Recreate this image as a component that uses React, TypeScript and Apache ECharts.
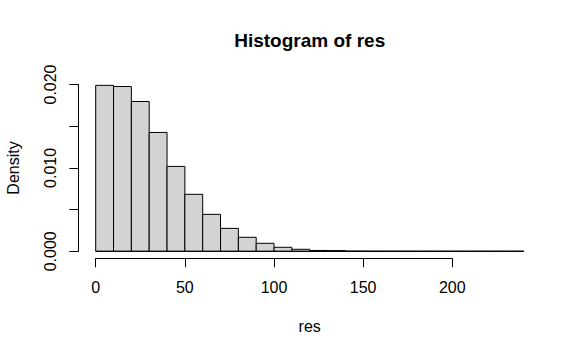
import React, { useEffect, useRef } from "react";
import * as echarts from "echarts";

const breaks = [0, 10, 20, 30, 40, 50, 60, 70, 80, 90, 100, 110, 120, 130, 140, 150, 160, 170, 180, 190, 200, 210, 220, 230, 240];
const density = [
  0.0199, 0.01976, 0.01796, 0.01425, 0.01018, 0.00683, 0.00443, 0.00275, 0.00168, 0.00096,
  0.00048, 0.00024, 0.0001, 0.00008, 0.00002, 0.00001, 0.000005, 0.000003, 0.000002, 0.000001,
  0.000001, 0.000001, 0.0000005, 0.0000005,
];
const xTickInterval = 50;
const yTickInterval = 0.005;
const titleText = "Histogram of res";
const xLabel = "res";
const yLabel = "Density";

const FONT = "'Liberation Sans', Arial, sans-serif";

export default function App() {
  const ref = useRef<HTMLDivElement>(null);
  useEffect(() => {
    if (!ref.current) return;
    const chart = echarts.init(ref.current, undefined, { renderer: "svg" });
    const data = density.map((d, i) => [breaks[i], breaks[i + 1], d]);
    const gridTop = 84.5;
    const gridBottom = 104.7;
    const x0px = 95.7;
    chart.setOption({
      animation: false,
      backgroundColor: "#ffffff",
      textStyle: { fontFamily: FONT },
      grid: [
        { left: x0px, right: 57.3, top: gridTop, bottom: gridBottom, containLabel: false },
        { left: x0px, right: 128.7, top: gridTop, bottom: gridBottom, containLabel: false },
      ],
      xAxis: [
        { type: "value", gridIndex: 0, min: 0, max: 240, show: false },
        {
          type: "value",
          gridIndex: 1,
          min: 0,
          max: 200,
          interval: xTickInterval,
          position: "bottom",
          offset: 7,
          axisLine: { show: true, onZero: false, lineStyle: { color: "#000", width: 1 } },
          axisTick: { show: true, length: 9, lineStyle: { color: "#000", width: 1 } },
          axisLabel: { color: "#000", fontSize: 16, margin: 21, fontFamily: FONT },
          splitLine: { show: false },
        },
      ],
      yAxis: [
        { type: "value", gridIndex: 0, min: 0, max: 0.02, show: false },
        {
          type: "value",
          gridIndex: 1,
          min: 0,
          max: 0.02,
          interval: yTickInterval,
          position: "left",
          offset: 17.3,
          axisLine: { show: true, onZero: false, lineStyle: { color: "#000", width: 1 } },
          axisTick: { show: true, length: 9, lineStyle: { color: "#000", width: 1 } },
          axisLabel: {
            color: "#000",
            fontSize: 16,
            margin: 20,
            rotate: 90,
            fontFamily: FONT,
            formatter: (v: number) => (Math.round(v * 1000) % 10 === 0 ? v.toFixed(3) : ""),
          },
          splitLine: { show: false },
        },
      ],
      series: [
        {
          type: "custom",
          xAxisIndex: 0,
          yAxisIndex: 0,
          data,
          renderItem: (params: any, api: any) => {
            const a = api.value(0);
            const b = api.value(1);
            const y = api.value(2);
            const p0 = api.coord([a, y]);
            const p1 = api.coord([b, 0]);
            return {
              type: "group",
              children: [
                {
                  type: "rect",
                  shape: { x: p0[0], y: p0[1], width: p1[0] - p0[0], height: p1[1] - p0[1] },
                  style: { fill: "#D3D3D3", stroke: "#000", lineWidth: 1 },
                },
                {
                  type: "line",
                  shape: { x1: p0[0], y1: p1[1], x2: p1[0], y2: p1[1] },
                  style: { stroke: "#000", lineWidth: 1 },
                },
              ],
            };
          },
        },
      ],
      graphic: [
        {
          type: "text",
          x: 309.7,
          y: 40.7,
          style: {
            text: titleText,
            font: `bold 19px ${FONT}`,
            fill: "#000",
            align: "center",
            verticalAlign: "middle",
          },
        },
        {
          type: "text",
          x: 309.7,
          y: 326,
          style: {
            text: xLabel,
            font: `16px ${FONT}`,
            fill: "#000",
            align: "center",
            verticalAlign: "middle",
          },
        },
        {
          type: "text",
          x: 13,
          y: 168,
          rotation: Math.PI / 2,
          style: {
            text: yLabel,
            font: `16px ${FONT}`,
            fill: "#000",
            align: "center",
            verticalAlign: "middle",
          },
        },
      ],
    });
    return () => chart.dispose();
  }, []);
  return (
    <div
      ref={ref}
      style={{ position: "fixed", left: 0, top: 0, width: 581, height: 356, background: "#fff" }}
    />
  );
}
